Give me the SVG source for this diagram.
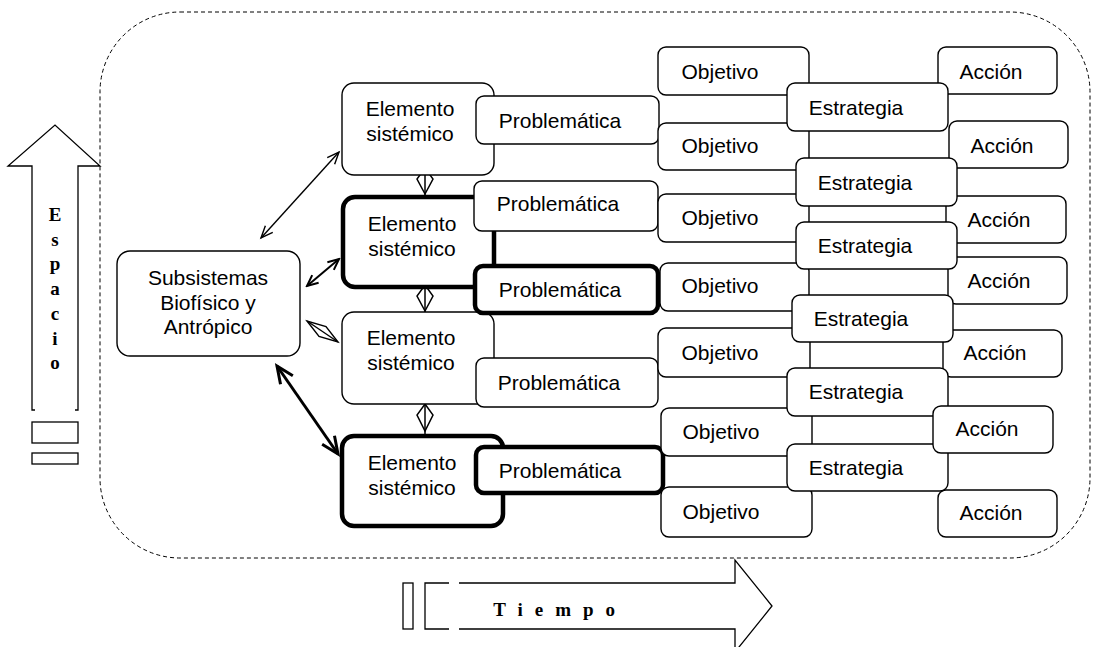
<svg xmlns="http://www.w3.org/2000/svg" width="1094" height="647" viewBox="0 0 1094 647">
<defs>
<style>
.b{fill:#fff;stroke:#000;stroke-width:1.4}
.k{fill:#fff;stroke:#000;stroke-width:4.5}
.t{font-family:"Liberation Sans",Arial,sans-serif;font-size:21px;fill:#000;text-anchor:middle}
.s{font-family:"Liberation Serif","Times New Roman",serif;font-size:19px;font-weight:bold;fill:#000;text-anchor:middle}
.ln{fill:none;stroke:#000}
</style>
<marker id="ah" markerUnits="userSpaceOnUse" markerWidth="16" markerHeight="14" refX="13" refY="6" orient="auto-start-reverse" viewBox="0 0 16 14"><path d="M1,1 L13,6 L1,11" fill="none" stroke="#000" stroke-width="1.4"/></marker>
<marker id="ah2" markerUnits="userSpaceOnUse" markerWidth="14" markerHeight="14" refX="12" refY="7" orient="auto-start-reverse" viewBox="0 0 14 14"><path d="M1,2 L12,7 L1,12" fill="none" stroke="#000" stroke-width="2"/></marker>
<marker id="ah3" markerUnits="userSpaceOnUse" markerWidth="22" markerHeight="20" refX="18" refY="9" orient="auto-start-reverse" viewBox="0 0 22 20"><path d="M1,1.5 L18,9 L1,16.5" fill="none" stroke="#000" stroke-width="3"/></marker>
</defs>
<rect x="0" y="0" width="1094" height="647" fill="#fff"/>

<g id="border">
<rect x="100" y="12" width="990" height="546" rx="80" ry="80" fill="none" stroke="#000" stroke-width="1" stroke-dasharray="4,3"/>
</g>

<g id="espacio">
<path class="ln" stroke-width="1.3" fill="#fff" d="M35,410 H32 V166 H8 L55,125 L100,166 H78 V410 H75"/>
<rect class="ln" stroke-width="1.3" x="32" y="422" width="46" height="21"/>
<rect class="ln" stroke-width="1.3" x="32" y="453" width="46" height="11"/>
<text class="s" x="55" y="221">E</text>
<text class="s" x="55" y="245.7">s</text>
<text class="s" x="55" y="270.4">p</text>
<text class="s" x="55" y="295.1">a</text>
<text class="s" x="55" y="319.8">c</text>
<text class="s" x="55" y="344.5">i</text>
<text class="s" x="55" y="369.2">o</text>
</g>

<g id="tiempo">
<rect class="ln" stroke-width="1.3" x="403" y="583" width="10" height="46"/>
<path class="ln" stroke-width="1.3" d="M449,583 H425 V629 H449"/>
<path class="ln" stroke-width="1.3" fill="#fff" d="M459,583 H735 V560 L772,606 L735,652 V629 H459"/>
<text class="s" x="556" y="616" style="letter-spacing:3.6px">T i e m p o</text>
</g>

<g id="connectors">
<line class="ln" stroke-width="1.4" x1="261" y1="238" x2="339" y2="152" marker-start="url(#ah)" marker-end="url(#ah)"/>
<line class="ln" stroke-width="2" x1="307" y1="286" x2="339" y2="259" marker-start="url(#ah2)" marker-end="url(#ah2)"/>
<g class="ln" stroke-width="1.4">
<polygon points="307,321 319,336.5 338,342 326,326.5"/>
<line x1="307" y1="321" x2="338" y2="342"/>
</g>
<line class="ln" stroke-width="3" x1="277" y1="366" x2="338" y2="454" marker-start="url(#ah3)" marker-end="url(#ah3)"/>
<g class="ln" stroke-width="1.5">
<line x1="425" y1="166" x2="425" y2="197"/>
<polygon points="425,168 433,179 425,194 417,179"/>
<line x1="425" y1="283" x2="425" y2="313"/>
<polygon points="425,285 433,296 425,311 417,296"/>
<line x1="425" y1="402" x2="425" y2="434"/>
<polygon points="425,404 433,415 425,431 417,415"/>
</g>
</g>

<g id="subsistemas">
<rect class="b" x="117" y="251" width="183" height="105" rx="13"/>
<text class="t" x="208" y="285">Subsistemas</text>
<text class="t" x="208" y="310">Biofísico y</text>
<text class="t" x="208" y="334">Antrópico</text>
</g>

<g id="elemento1">
<rect class="b" x="342" y="83" width="152" height="92" rx="12"/>
<text class="t" x="410" y="116">Elemento</text>
<text class="t" x="410" y="141">sistémico</text>
</g>
<g id="elemento2">
<rect class="k" x="343" y="197" width="151" height="90" rx="12"/>
<text class="t" x="412" y="231">Elemento</text>
<text class="t" x="412" y="256">sistémico</text>
</g>
<g id="elemento3">
<rect class="b" x="342" y="312" width="152" height="92" rx="12"/>
<text class="t" x="411" y="345">Elemento</text>
<text class="t" x="411" y="370">sistémico</text>
</g>
<g id="elemento4">
<rect class="k" x="342" y="436" width="161" height="90" rx="12"/>
<text class="t" x="412" y="470">Elemento</text>
<text class="t" x="412" y="495">sistémico</text>
</g>

<g id="problematica1">
<rect class="b" x="476" y="96" width="183" height="48" rx="8"/>
<text class="t" x="560" y="128">Problemática</text>
</g>
<g id="problematica2">
<rect class="b" x="474" y="181" width="184" height="50" rx="8"/>
<text class="t" x="558" y="211">Problemática</text>
</g>
<g id="problematica3">
<rect class="k" x="475" y="266" width="183" height="47" rx="8"/>
<text class="t" x="560" y="297">Problemática</text>
</g>
<g id="problematica4">
<rect class="b" x="476" y="358" width="182" height="49" rx="8"/>
<text class="t" x="559" y="390">Problemática</text>
</g>
<g id="problematica5">
<rect class="k" x="476" y="447" width="187" height="46" rx="8"/>
<text class="t" x="560" y="478">Problemática</text>
</g>

<g id="objetivo1"><rect class="b" x="658" y="47" width="151" height="48" rx="8"/><text class="t" x="720" y="79">Objetivo</text></g>
<g id="objetivo2"><rect class="b" x="658" y="123" width="151" height="47" rx="8"/><text class="t" x="720" y="153">Objetivo</text></g>
<g id="objetivo3"><rect class="b" x="658" y="194" width="151" height="48" rx="8"/><text class="t" x="720" y="225">Objetivo</text></g>
<g id="objetivo4"><rect class="b" x="660" y="263" width="149" height="48" rx="8"/><text class="t" x="720" y="293">Objetivo</text></g>
<g id="objetivo5"><rect class="b" x="658" y="328" width="152" height="49" rx="8"/><text class="t" x="720" y="360">Objetivo</text></g>
<g id="objetivo6"><rect class="b" x="661" y="408" width="151" height="48" rx="8"/><text class="t" x="721" y="439">Objetivo</text></g>
<g id="objetivo7"><rect class="b" x="661" y="487" width="151" height="50" rx="8"/><text class="t" x="721" y="519">Objetivo</text></g>

<g id="accion1"><rect class="b" x="938" y="47" width="119" height="47" rx="8"/><text class="t" x="991" y="79">Acción</text></g>
<g id="accion2"><rect class="b" x="949" y="121" width="119" height="47" rx="8"/><text class="t" x="1002" y="153">Acción</text></g>
<g id="accion3"><rect class="b" x="946" y="196" width="120" height="47" rx="8"/><text class="t" x="999" y="227">Acción</text></g>
<g id="accion4"><rect class="b" x="948" y="257" width="119" height="47" rx="8"/><text class="t" x="999" y="288">Acción</text></g>
<g id="accion5"><rect class="b" x="943" y="330" width="119" height="47" rx="8"/><text class="t" x="995" y="360">Acción</text></g>
<g id="accion7"><rect class="b" x="938" y="490" width="119" height="47" rx="8"/><text class="t" x="991" y="520">Acción</text></g>

<g id="estrategia1"><rect class="b" x="787" y="83" width="161" height="48" rx="8"/><text class="t" x="856" y="115">Estrategia</text></g>
<g id="estrategia2"><rect class="b" x="796" y="158" width="161" height="48" rx="8"/><text class="t" x="865" y="190">Estrategia</text></g>
<g id="estrategia3"><rect class="b" x="796" y="222" width="161" height="47" rx="8"/><text class="t" x="865" y="253">Estrategia</text></g>
<g id="estrategia4"><rect class="b" x="792" y="295" width="161" height="47" rx="8"/><text class="t" x="861" y="326">Estrategia</text></g>
<g id="estrategia5"><rect class="b" x="787" y="368" width="161" height="48" rx="8"/><text class="t" x="856" y="399">Estrategia</text></g>
<g id="estrategia6"><rect class="b" x="787" y="444" width="161" height="47" rx="8"/><text class="t" x="856" y="475">Estrategia</text></g>

<g id="accion6"><rect class="b" x="933" y="406" width="120" height="47" rx="8"/><text class="t" x="987" y="436">Acción</text></g>
</svg>
